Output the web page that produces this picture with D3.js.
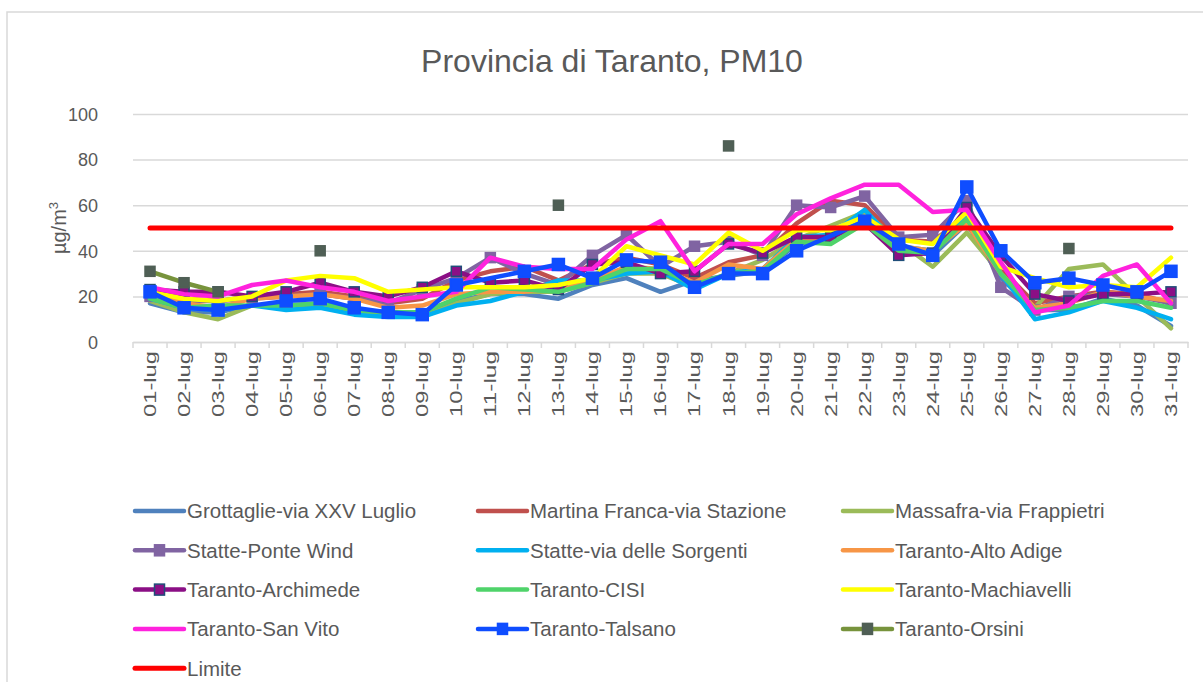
<!DOCTYPE html>
<html>
<head>
<meta charset="utf-8">
<script src="https://cdn.jsdelivr.net/npm/d3@7"></script>
<style>
  body { margin: 0; background: #fff; }
  svg text { font-family: "Liberation Sans", Arial, sans-serif; fill: #595959; }
</style>
</head>
<body>
<div id="chart"></div>
<script>
// giorni di luglio
var days = ["01-lug","02-lug","03-lug","04-lug","05-lug","06-lug","07-lug","08-lug","09-lug","10-lug",
  "11-lug","12-lug","13-lug","14-lug","15-lug","16-lug","17-lug","18-lug","19-lug","20-lug",
  "21-lug","22-lug","23-lug","24-lug","25-lug","26-lug","27-lug","28-lug","29-lug","30-lug","31-lug"];
var yTicks = [0, 20, 40, 60, 80, 100];

// valori PM10 per stazione (null = dato mancante)
var grottaglie = [17,13,13,16,16,16,14,13,13,18,21,21,19,25,28,22,27,29,31,43,45,55,42,38,52,28,14,14,19,16,7];
var martina    = [24,19,18,20,21,22,20,17,19,27,31,33,27,34,37,34,28,35,38,52,62,60,45,44,56,32,17,20,22,21,17];
var massafra   = [18,13,10,16,16,17,13,12,11,17,21,22,22,26,30,30,24,30,36,45,51,57,44,33,48,30,15,32,34,20,6];
var statteP    = [20,18,18,19,20,21,19,17,23,28,37,30,25,38,47,33,42,44,38,60,59,64,46,47,62,24,14,20,21,20,17];
var statteS    = [19,15,14,16,14,15,12,11,11,16,18,22,27,27,30,31,23,30,32,46,47,58,42,40,55,30,10,13,18,15,10];
var altoAdige  = [22,17,15,19,20,21,19,15,16,21,22,22,24,27,33,32,26,34,32,45,46,53,42,40,52,30,15,17,22,20,18];
var archimede  = [23,22,22,20,22,26,22,20,24,31,26,27,23,34,35,30,31,43,39,46,46,52,38,39,59,38,21,18,21,21,22];
var cisi       = [19,15,16,16,16,17,14,13,13,19,24,23,22,26,32,32,25,30,31,44,43,52,40,39,54,30,14,15,18,18,15];
var machiavelli= [22,19,18,20,27,29,28,22,23,24,24,24,25,28,42,38,34,48,40,49,49,55,45,43,57,33,28,24,25,24,37];
var sanVito    = [24,21,20,25,27,24,22,18,20,22,37,33,32,32,45,53,31,43,43,56,63,69,69,57,58,35,13,16,29,34,17];
var talsano    = [22,15,14,null,18,19,15,13,12,25,null,31,34,28,36,35,24,30,30,40,null,53,43,38,68,40,26,28,25,22,31];
var orsini     = [31,26,22,null,null,40,null,null,null,null,null,null,60,null,null,null,null,86,null,null,null,null,null,null,null,null,null,41,null,null,null];
var limite     = 50;

var seriesNames = ["Grottaglie-via XXV Luglio","Martina Franca-via Stazione","Massafra-via Frappietri",
  "Statte-Ponte Wind","Statte-via delle Sorgenti","Taranto-Alto Adige",
  "Taranto-Archimede","Taranto-CISI","Taranto-Machiavelli",
  "Taranto-San Vito","Taranto-Talsano","Taranto-Orsini","Limite"];

var series = [
  {name: seriesNames[0], values: grottaglie, color: "#4f81bd"},
  {name: seriesNames[1], values: martina, color: "#c0504d"},
  {name: seriesNames[2], values: massafra, color: "#9bbb59"},
  {name: seriesNames[3], values: statteP, color: "#8064a2", marker: "#8064a2", mstroke: "#8064a2"},
  {name: seriesNames[4], values: statteS, color: "#00b0f0"},
  {name: seriesNames[5], values: altoAdige, color: "#f79646"},
  {name: seriesNames[6], values: archimede, color: "#8b0f85", marker: "#8b0f85", mstroke: "#1f4e79"},
  {name: seriesNames[7], values: cisi, color: "#4fd36a"},
  {name: seriesNames[8], values: machiavelli, color: "#ffff00"},
  {name: seriesNames[9], values: sanVito, color: "#ff22dd"},
  {name: seriesNames[10], values: talsano, color: "#0f4dff", marker: "#0f4dff", mstroke: "#0f4dff", big: true},
  {name: seriesNames[11], values: orsini, color: "#77933c", marker: "#4f5f55", mstroke: "#4f5f55"},
  {name: seriesNames[12], values: days.map(function() { return limite; }), color: "#ff0000", width: 5}
];

var W = 1203, H = 682;
var svg = d3.select("#chart").append("svg")
    .attr("width", W)
    .attr("height", H);

// cornice
svg.append("rect")
    .attr("x", 7).attr("y", 12)
    .attr("width", 1260).attr("height", 720)
    .attr("fill", "#fff")
    .attr("stroke", "#d9d9d9")
    .attr("stroke-width", 1.5);

var x = d3.scaleBand().domain(days).range([133, 1188]);
var y = d3.scaleLinear().domain([0, 100]).range([342, 114]);
var cx = function(d) { return x(d) + x.bandwidth() / 2; };

// titolo
svg.append("text")
    .attr("x", 612).attr("y", 72)
    .attr("text-anchor", "middle")
    .style("font-size", "32px")
    .text("Provincia di Taranto, PM10");

// asse y con griglia
var yAxis = svg.append("g")
    .attr("transform", "translate(133,0)")
    .call(d3.axisLeft(y).tickValues(yTicks).tickSize(-(1188 - 133)).tickPadding(35));
yAxis.select(".domain").remove();
yAxis.selectAll("line").attr("stroke", "#d9d9d9").attr("stroke-width", 1.5);
yAxis.selectAll("text").style("font-size", "18px").attr("fill", "#595959").attr("dy", "0.35em");

svg.append("text")
    .attr("transform", "translate(66,228) rotate(-90)")
    .attr("text-anchor", "middle")
    .style("font-size", "20px")
    .html("µg/m<tspan dy='-8' style='font-size:13px'>3</tspan>");

// asse x
var xAxis = svg.append("g")
    .attr("transform", "translate(0,342)")
    .call(d3.axisBottom(x).tickSize(0).tickPadding(8));
xAxis.select(".domain").attr("stroke", "#d9d9d9").attr("stroke-width", 1.5);
xAxis.selectAll("text")
    .style("font-size", "17px")
    .attr("fill", "#595959")
    .attr("text-anchor", "end")
    .attr("transform", "rotate(-90)")
    .attr("textLength", 66)
    .attr("lengthAdjust", "spacingAndGlyphs")
    .attr("x", -9).attr("y", 0).attr("dy", "0.35em");

svg.append("g").selectAll("line")
    .data(days.concat(["end"]))
    .enter().append("line")
    .attr("x1", function(d) { return d === "end" ? x.range()[1] : x(d); })
    .attr("x2", function(d) { return d === "end" ? x.range()[1] : x(d); })
    .attr("y1", 342).attr("y2", 348)
    .attr("stroke", "#d9d9d9")
    .attr("stroke-width", 1.5);

// linee
var line = d3.line()
    .defined(function(d) { return d.v !== null; })
    .x(function(d) { return cx(d.day); })
    .y(function(d) { return y(d.v); });

series.forEach(function(s) {
    var pts = days.map(function(d, i) { return {day: d, v: s.values[i]}; });
    var g = svg.append("g");
    var linePts = s.name === "Taranto-Orsini" ? pts : pts.filter(function(p) { return p.v !== null; });
    g.append("path")
        .datum(linePts)
        .attr("d", line)
        .attr("fill", "none")
        .attr("stroke", s.color)
        .attr("stroke-width", s.width || 4.5)
        .attr("stroke-linejoin", "round")
        .attr("stroke-linecap", "round");
    if (s.marker) {
        var sz = s.big ? 12 : 10;
        g.selectAll("rect")
            .data(pts.filter(function(p) { return p.v !== null; }))
            .enter().append("rect")
            .attr("x", function(p) { return cx(p.day) - sz / 2; })
            .attr("y", function(p) { return y(p.v) - sz / 2; })
            .attr("width", sz).attr("height", sz)
            .attr("fill", s.marker)
            .attr("stroke", s.mstroke)
            .attr("stroke-width", 1.5);
    }
});

// legenda
var legend = svg.append("g");
series.forEach(function(s, i) {
    var col = i % 3, row = Math.floor(i / 3);
    var lx = [135, 478, 843][col], ly = 511 + row * 39.3;
    var item = legend.append("g").attr("transform", "translate(" + lx + "," + ly + ")");
    item.append("line")
        .attr("x1", 0).attr("x2", 49)
        .attr("y1", 0).attr("y2", 0)
        .attr("stroke", s.color)
        .attr("stroke-width", s.width || 4.5)
        .attr("stroke-linecap", "round");
    if (s.marker) {
        item.append("rect")
            .attr("x", 19.5).attr("y", -5.5)
            .attr("width", 10).attr("height", 11)
            .attr("fill", s.marker)
            .attr("stroke", s.mstroke)
            .attr("stroke-width", 1.5);
    }
    item.append("text")
        .attr("x", 52).attr("y", 0).attr("dy", "0.36em")
        .style("font-size", "20.5px")
        .text(s.name);
});
</script>
</body>
</html>
